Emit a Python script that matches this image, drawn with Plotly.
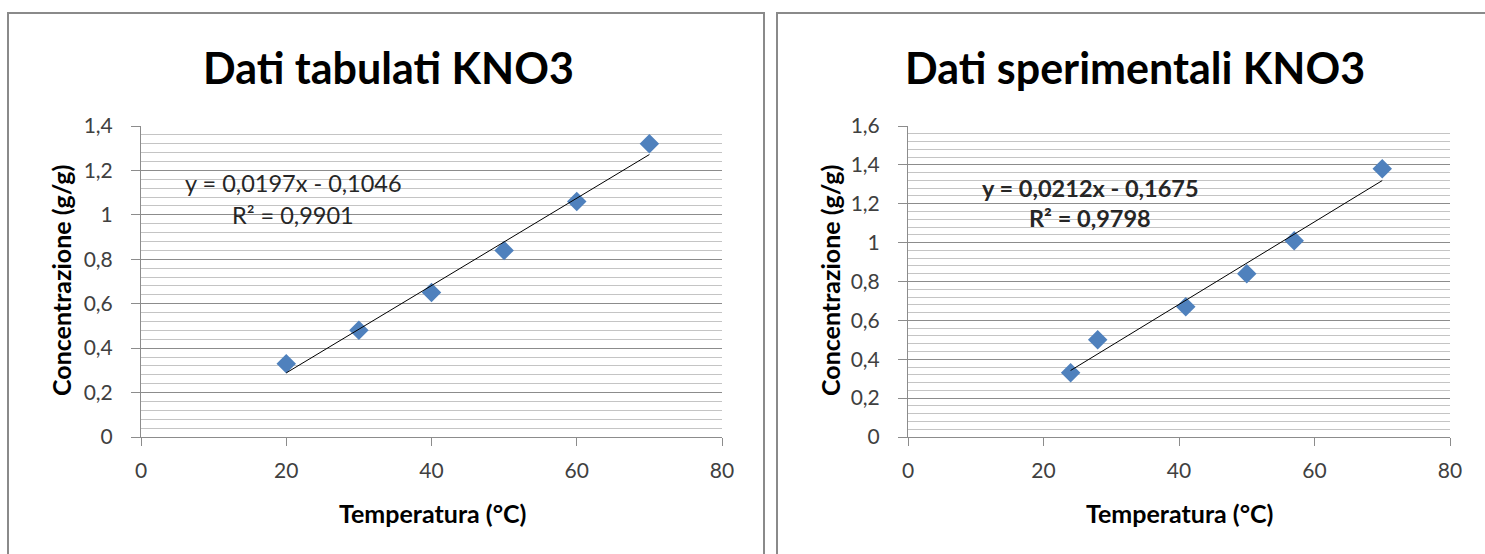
import numpy as np
import plotly.graph_objects as go

# ---- data ----
temp_tab = [20, 30, 40, 50, 60, 70]
conc_tab = [0.33, 0.48, 0.65, 0.84, 1.06, 1.32]

temp_exp = [24, 28, 41, 50, 57, 70]
conc_exp = [0.33, 0.50, 0.67, 0.84, 1.01, 1.38]

title_left = "Dati tabulati KNO3"
title_right = "Dati sperimentali KNO3"
x_title = "Temperatura (°C)"
y_title = "Concentrazione (g/g)"
eq_left = ["y = 0,0197x - 0,1046", "R² = 0,9901"]
eq_right = ["y = 0,0212x - 0,1675", "R² = 0,9798"]

W, H = 1485, 554
FONT = "Lato"
MARKER = "#4F81BD"
MAJOR = "#8c8c8c"
MINOR = "#c4c4c4"
TICKCOL = "#404040"


def px(x):
    return x / W


def py(y):
    return (H - y) / H


fig = go.Figure()


def add_panel(xs, ys, xa, ya):
    fig.add_trace(go.Scatter(
        x=xs, y=ys, mode="markers", xaxis=xa, yaxis=ya,
        marker=dict(symbol="diamond", size=15, color=MARKER, line=dict(width=0)),
        showlegend=False, hoverinfo="x+y"))
    m, b = np.polyfit(xs, ys, 1)
    lx = [min(xs), max(xs)]
    fig.add_trace(go.Scatter(
        x=lx, y=[m * v + b for v in lx], mode="lines", xaxis=xa, yaxis=ya,
        line=dict(color="black", width=1), showlegend=False, hoverinfo="skip"))


add_panel(temp_tab, conc_tab, "x", "y")
add_panel(temp_exp, conc_exp, "x2", "y2")

xcommon = dict(range=[0, 80], dtick=20, tick0=0, showgrid=False, zeroline=False,
               showline=True, linecolor=MAJOR, linewidth=1, ticks="outside",
               ticklen=8, tickcolor=MAJOR, tickfont=dict(family=FONT, size=21, color=TICKCOL),
               ticklabelstandoff=7, fixedrange=True, automargin=False)
ycommon = dict(dtick=0.2, tick0=0, showgrid=True, gridcolor=MAJOR, gridwidth=1,
               zeroline=False, showline=True, linecolor=MAJOR, linewidth=1,
               ticks="outside", ticklen=9, tickcolor=MAJOR,
               tickfont=dict(family=FONT, size=21, color=TICKCOL), ticklabelstandoff=14,
               minor=dict(dtick=0.04, showgrid=True, gridcolor=MINOR, gridwidth=1, ticks=""),
               fixedrange=True, automargin=False)

ydom = [py(437), py(126)]
fig.update_layout(
    width=W, height=H, margin=dict(l=0, r=0, t=0, b=0, pad=0, autoexpand=False),
    paper_bgcolor="white", plot_bgcolor="white",
    separators=",.",
    xaxis=dict(domain=[px(141), px(722)], anchor="y", **xcommon),
    yaxis=dict(domain=ydom, anchor="x", range=[0, 1.4], **ycommon),
    xaxis2=dict(domain=[px(908), px(1450)], anchor="y2", **xcommon),
    yaxis2=dict(domain=ydom, anchor="x2", range=[0, 1.6], **ycommon),
)

ann = []


def text(x, y, s, size, bold=False, angle=0, color="black"):
    ann.append(dict(x=px(x), y=py(y), xref="paper", yref="paper", text=f"<b>{s}</b>" if bold else s,
                    showarrow=False, xanchor="center", yanchor="middle", textangle=angle,
                    font=dict(family=FONT, size=size, color=color)))


text(388, 68, title_left, 43, bold=True)
text(1135, 68, title_right, 43, bold=True)
text(432, 513, x_title, 25, bold=True)
text(1179, 513, x_title, 25, bold=True)
text(61, 281, y_title, 25, bold=True, angle=-90)
text(830, 281, y_title, 25, bold=True, angle=-90)
text(293, 183, eq_left[0], 23.5, color="#262626")
text(293, 215, eq_left[1], 23.5, color="#262626")
text(1090, 188, eq_right[0], 23.5, bold=True, color="#262626")
text(1090, 218, eq_right[1], 23.5, bold=True, color="#262626")
fig.update_layout(annotations=ann)

shapes = [
    dict(type="rect", xref="paper", yref="paper", x0=px(8), x1=px(764), y0=-0.1, y1=py(13),
         line=dict(color="#8a8a8a", width=2), fillcolor="rgba(0,0,0,0)", layer="above"),
    dict(type="rect", xref="paper", yref="paper", x0=px(777), x1=px(1495), y0=-0.1, y1=py(13),
         line=dict(color="#8a8a8a", width=2), fillcolor="rgba(0,0,0,0)", layer="above"),
]
fig.update_layout(shapes=shapes)

post = (
    "document.body.style.margin='0';document.body.style.padding='0';"
    "document.body.style.overflow='hidden';"
)
fig.write_html("out.html", config={"displayModeBar": False}, post_script=post)
